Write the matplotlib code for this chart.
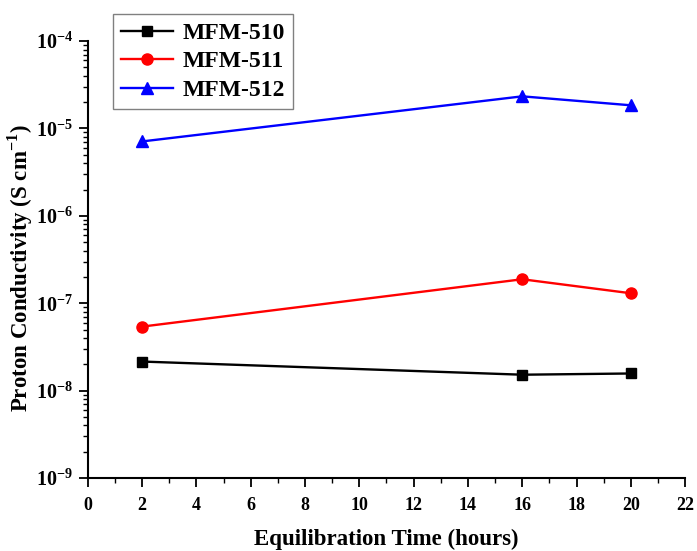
import matplotlib
matplotlib.use("Agg")
import matplotlib.pyplot as plt
from matplotlib.ticker import LogLocator, MultipleLocator, NullFormatter

plt.rcParams['font.family'] = 'Liberation Serif'
plt.rcParams['font.weight'] = 'bold'
plt.rcParams['mathtext.fontset'] = 'custom'
plt.rcParams['mathtext.rm'] = 'Liberation Serif:bold'
plt.rcParams['mathtext.bf'] = 'Liberation Serif:bold'

# data
hours = [2, 16, 20]
mfm510 = [2.15e-8, 1.52e-8, 1.57e-8]
mfm511 = [5.4e-8, 1.88e-7, 1.30e-7]
mfm512 = [7.1e-6, 2.33e-5, 1.84e-5]

fig = plt.figure(figsize=(6.97, 5.51), dpi=100)
ax = fig.add_axes([0.126, 0.1325, 0.857, 0.793])

ax.plot(hours, mfm510, color='black', marker='s', ms=7, lw=1.7, label='MFM-510')
ax.plot(hours, mfm511, color='red', marker='o', ms=8, lw=1.7, label='MFM-511')
ax.plot(hours, mfm512, color='blue', marker='^', ms=8, lw=1.7, label='MFM-512')

ax.set_yscale('log')
ax.set_ylim(1e-9, 1e-4)
ax.set_xlim(0, 22)
ax.xaxis.set_major_locator(MultipleLocator(2))
ax.xaxis.set_minor_locator(MultipleLocator(1))
ax.yaxis.set_major_locator(LogLocator(base=10))
ax.yaxis.set_minor_locator(LogLocator(base=10, subs=range(2, 10)))
ax.yaxis.set_minor_formatter(NullFormatter())
ax.xaxis.get_offset_text().set_visible(False)
ax.yaxis.get_offset_text().set_visible(False)

ax.spines['top'].set_visible(False)
ax.spines['right'].set_visible(False)
ax.spines['left'].set_linewidth(1.5)
ax.spines['bottom'].set_linewidth(1.5)
ax.tick_params(which='major', length=6.5, width=1.3)
ax.tick_params(axis='x', which='major', labelsize=13, pad=7)
ax.tick_params(axis='y', which='major', labelsize=14.5, pad=4)
ax.tick_params(which='minor', length=3.5, width=1.0)

ax.set_xlabel('Equilibration Time (hours)', fontsize=16.5, fontweight='bold')
ax.set_ylabel('Proton Conductivity (S cm$^{-1}$)', fontsize=16.5, fontweight='bold')
ax.xaxis.set_label_coords(0.5, -0.117)
ax.yaxis.set_label_coords(-0.088, 0.48)

leg = ax.legend(loc='upper left', bbox_to_anchor=(113/697, 1 - 14/551),
                bbox_transform=fig.transFigure, borderaxespad=0, fontsize=17,
                fancybox=False, edgecolor='gray', framealpha=1, handlelength=2.2,
                borderpad=0.35, labelspacing=0.3, handletextpad=0.4)
leg.get_frame().set_linewidth(1.0)

fig.savefig('out.png', dpi=100)
